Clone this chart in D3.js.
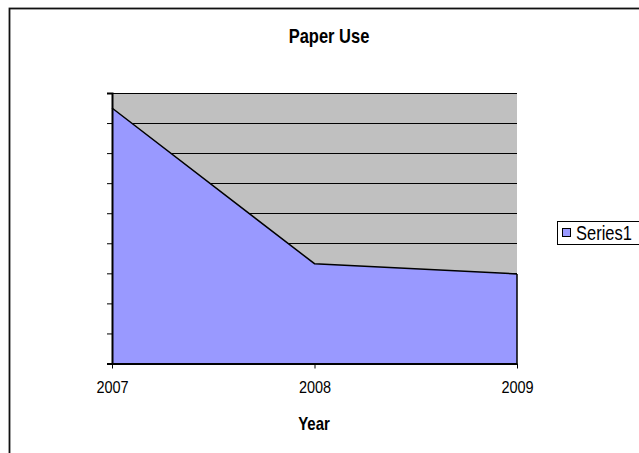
<!DOCTYPE html>
<html>
<head>
<meta charset="utf-8">
<script src="https://cdn.jsdelivr.net/npm/d3@7"></script>
<style>
  html, body { margin: 0; padding: 0; background: #fff; }
  svg { display: block; font-family: "Liberation Sans", Arial, sans-serif; }
</style>
</head>
<body>
<div id="chart"></div>
<script>
// Paper use per year
const years = ["2007", "2008", "2009"];
const series1 = [8.5, 3.32, 2.98];
const yTicks = [0, 1, 2, 3, 4, 5, 6, 7, 8, 9];
const seriesName = "Series1";

const W = 639, H = 453;
const TEXT_STRETCH = 1.18; // glyphs are drawn slightly taller than wide
const svg = d3.select("#chart").append("svg").attr("width", W).attr("height", H);

// outer chart frame (runs past the right and bottom edges)
svg.append("rect")
  .attr("x", 9.5).attr("y", 8.5)
  .attr("width", 700).attr("height", 600)
  .attr("fill", "#fff").attr("stroke", "#111").attr("stroke-width", 1.8);

const plot = { left: 112, right: 517, top: 93, bottom: 363.5 };

const x = d3.scalePoint().domain(years).range([plot.left, plot.right]);
const y = d3.scaleLinear().domain([0, 9]).range([plot.bottom, plot.top]);

// plot background
svg.append("rect")
  .attr("x", plot.left).attr("y", plot.top)
  .attr("width", plot.right - plot.left).attr("height", plot.bottom - plot.top)
  .attr("fill", "#C0C0C0");

// horizontal gridlines
svg.append("g").selectAll("line")
  .data(yTicks.filter(d => d > 0))
  .join("line")
  .attr("x1", plot.left).attr("x2", plot.right)
  .attr("y1", d => Math.round(y(d)) + 0.5).attr("y2", d => Math.round(y(d)) + 0.5)
  .attr("stroke", "#000").attr("stroke-width", 1);

// area
const data = years.map((yr, i) => ({ yr, v: series1[i] }));
svg.append("path")
  .datum(data)
  .attr("fill", "#9999FF")
  .attr("d", d3.area().x(d => x(d.yr)).y0(plot.bottom).y1(d => y(d.v)));
svg.append("path")
  .datum(data)
  .attr("fill", "none").attr("stroke", "#000").attr("stroke-width", 1.5)
  .attr("d", d3.line().x(d => x(d.yr)).y(d => y(d.v)));
// right edge of the area
svg.append("line")
  .attr("x1", x(years[2])).attr("x2", x(years[2]))
  .attr("y1", y(series1[2])).attr("y2", plot.bottom)
  .attr("stroke", "#000").attr("stroke-width", 1.5);

// y axis: ticks only, no labels
const yAxis = d3.axisLeft(y).tickValues(yTicks).tickSize(5).tickFormat("");
const gy = svg.append("g").attr("transform", `translate(${plot.left},0)`).call(yAxis);
gy.select(".domain").attr("stroke", "#000").attr("stroke-width", 2);
gy.selectAll(".tick line").attr("stroke", "#000");

// x axis
const xAxis = d3.axisBottom(x).tickSize(5).tickSizeOuter(0);
const gx = svg.append("g").attr("transform", `translate(0,${plot.bottom})`).call(xAxis);
gx.select(".domain").attr("stroke", "#000").attr("stroke-width", 2);
gx.selectAll(".tick line").attr("stroke", "#000");
gx.selectAll(".tick text")
  .attr("fill", "#000").attr("font-size", 14.5)
  .attr("font-family", "Liberation Sans, Arial, sans-serif")
  .attr("y", 0).attr("dy", 0)
  .attr("transform", `translate(0,${393 - plot.bottom}) scale(1,${TEXT_STRETCH})`);

// stretched text helper
function label(str, tx, ty, size, weight, anchor) {
  return svg.append("text")
    .attr("transform", `translate(${tx},${ty}) scale(1,${TEXT_STRETCH})`)
    .attr("text-anchor", anchor || "middle")
    .attr("font-size", size).attr("font-weight", weight || "normal")
    .attr("fill", "#000")
    .text(str);
}

// titles
label("Paper Use", 329, 43, 16.5, "bold");
label("Year", 314, 430, 15, "bold");

// legend
const lg = svg.append("g");
lg.append("rect")
  .attr("x", 557.5).attr("y", 221.5).attr("width", 120).attr("height", 23)
  .attr("fill", "#fff").attr("stroke", "#000").attr("stroke-width", 1);
lg.append("rect")
  .attr("x", 562.5).attr("y", 228.5).attr("width", 8).attr("height", 8)
  .attr("fill", "#9999FF").attr("stroke", "#000").attr("stroke-width", 1);
label(seriesName, 576, 239.5, 16.5, "normal", "start");
</script>
</body>
</html>
